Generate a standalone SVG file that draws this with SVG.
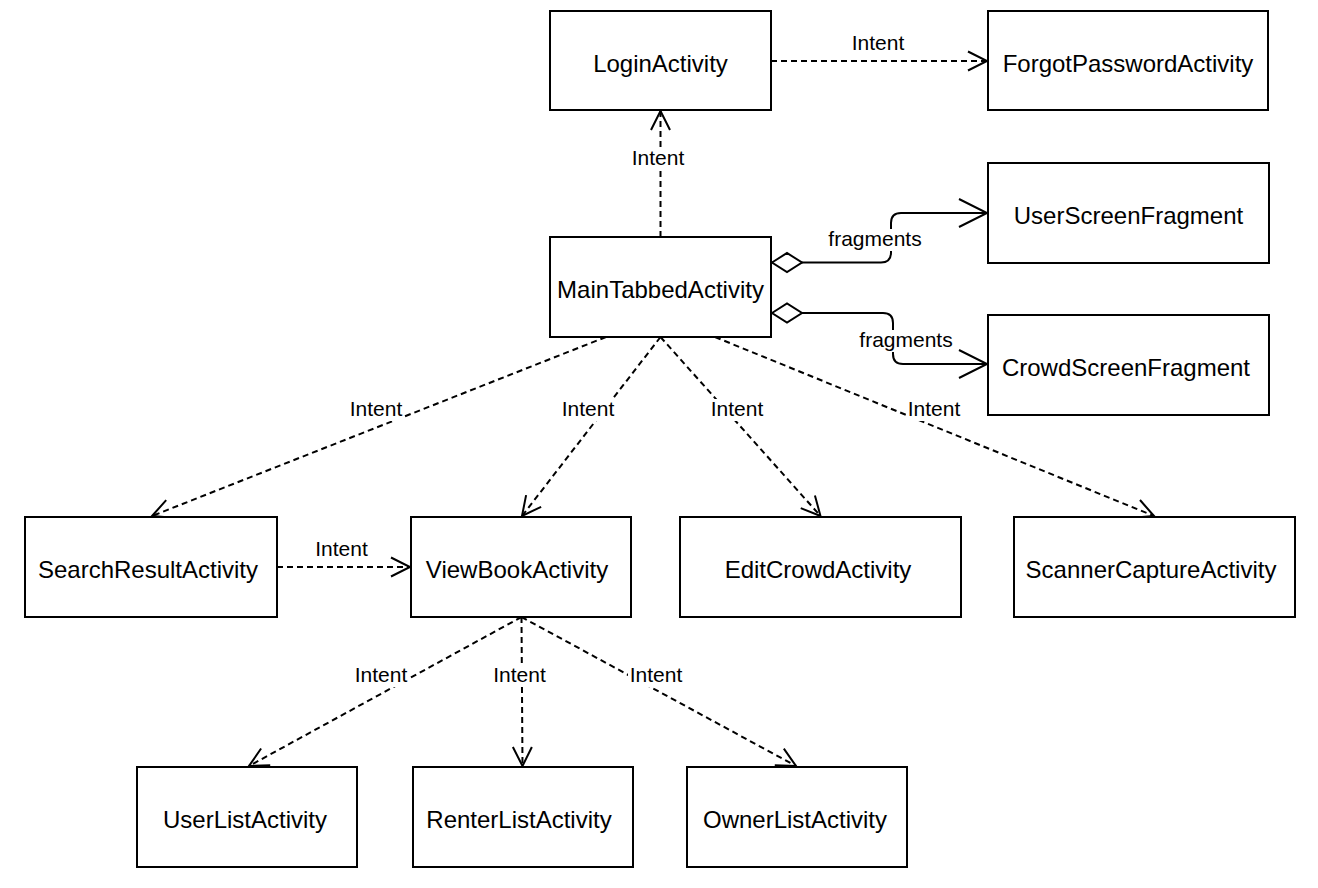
<svg xmlns="http://www.w3.org/2000/svg" width="1318" height="888" viewBox="0 0 1318 888">
<style>
.box{fill:#fff;stroke:#000;stroke-width:2}
.nt{font-family:"Liberation Sans",Arial,Helvetica,sans-serif;font-size:24px;text-anchor:middle;fill:#000}
.lt{font-family:"Liberation Sans",Arial,Helvetica,sans-serif;font-size:21px;text-anchor:middle;fill:#000}
.bg{fill:#fff;stroke:none}
.dash{fill:none;stroke:#000;stroke-width:2;stroke-dasharray:6 4;marker-end:url(#open)}
.solid{fill:none;stroke:#000;stroke-width:2;marker-start:url(#diamond);marker-end:url(#openBig)}
</style>
<defs>
<marker id="open" markerUnits="userSpaceOnUse" viewBox="-22 -12 24 24" refX="0" refY="0" markerWidth="24" markerHeight="24" orient="auto" overflow="visible">
<path d="M-19,-9.5 L0,0 L-19,9.5" fill="none" stroke="#000" stroke-width="2" stroke-dasharray="none"/>
</marker>
<marker id="openBig" markerUnits="userSpaceOnUse" viewBox="-31 -16 33 32" refX="0" refY="0" markerWidth="33" markerHeight="32" orient="auto" overflow="visible">
<path d="M-28,-14 L0,0 L-28,14" fill="none" stroke="#000" stroke-width="2" stroke-dasharray="none"/>
</marker>
<marker id="diamond" markerUnits="userSpaceOnUse" viewBox="-2 -11 34 22" refX="0" refY="0" markerWidth="34" markerHeight="22" orient="auto" overflow="visible">
<path d="M0,0 L15,-9.5 L30,0 L15,9.5 Z" fill="#fff" stroke="#000" stroke-width="2" stroke-dasharray="none"/>
</marker>
</defs>
<rect width="1318" height="888" fill="#fff"/>

<g id="connectors">
<path class="dash" d="M660.5,237 L660.5,111"/>
<path class="dash" d="M771,61 L987,61"/>
<path class="solid" d="M772,262.5 L881,262.5 Q891,262.5 891,252.5 L891,223 Q891,213 901,213 L987,213"/>
<path class="solid" d="M772,313 L883,313 Q893,313 893,323 L893,354 Q893,364 903,364 L987,364"/>
<path class="dash" d="M606,337 L152,516"/>
<path class="dash" d="M660.5,337 L522,516"/>
<path class="dash" d="M660.5,337 L820.5,516"/>
<path class="dash" d="M715,337 L1154,516"/>
<path class="dash" d="M277,567 L410,567"/>
<path class="dash" d="M521.5,617 L249,766"/>
<path class="dash" d="M521.5,617 L522.5,766"/>
<path class="dash" d="M521.5,617 L796,766"/>

<g id="labels">
<text class="lt" x="878" y="50">Intent</text>
<rect class="bg" x="631" y="148" width="56" height="22"/><text class="lt" x="658" y="165">Intent</text>
<rect class="bg" x="827" y="229" width="96" height="22"/><text class="lt" x="875" y="246">fragments</text>
<rect class="bg" x="858" y="330" width="96" height="22"/><text class="lt" x="906" y="347">fragments</text>
<rect class="bg" x="348" y="399" width="56" height="22"/><text class="lt" x="376" y="416">Intent</text>
<rect class="bg" x="560" y="399" width="56" height="22"/><text class="lt" x="588" y="416">Intent</text>
<rect class="bg" x="709" y="399" width="56" height="22"/><text class="lt" x="737" y="416">Intent</text>
<rect class="bg" x="906" y="399" width="56" height="22"/><text class="lt" x="934" y="416">Intent</text>
<text class="lt" x="341.5" y="556">Intent</text>
<rect class="bg" x="353" y="665" width="56" height="22"/><text class="lt" x="381" y="682">Intent</text>
<rect class="bg" x="491" y="665" width="56" height="22"/><text class="lt" x="519.5" y="682">Intent</text>
<rect class="bg" x="628" y="665" width="56" height="22"/><text class="lt" x="656" y="682">Intent</text>
</g>
</g>

<g id="LoginActivity"><rect class="box" x="550" y="11" width="221" height="99"/><text class="nt" x="660.5" y="71.5">LoginActivity</text></g>
<g id="ForgotPasswordActivity"><rect class="box" x="988" y="11" width="280" height="99"/><text class="nt" x="1128" y="71.5">ForgotPasswordActivity</text></g>
<g id="UserScreenFragment"><rect class="box" x="988" y="163" width="281" height="100"/><text class="nt" x="1128.5" y="224">UserScreenFragment</text></g>
<g id="MainTabbedActivity"><rect class="box" x="550" y="237" width="221" height="100"/><text class="nt" x="660.5" y="298">MainTabbedActivity</text></g>
<g id="CrowdScreenFragment"><rect class="box" x="988" y="315" width="281" height="100"/><text class="nt" x="1126" y="376">CrowdScreenFragment</text></g>
<g id="SearchResultActivity"><rect class="box" x="25" y="517" width="252" height="100"/><text class="nt" x="148" y="578">SearchResultActivity</text></g>
<g id="ViewBookActivity"><rect class="box" x="411" y="517" width="220" height="100"/><text class="nt" x="517" y="578">ViewBookActivity</text></g>
<g id="EditCrowdActivity"><rect class="box" x="680" y="517" width="281" height="100"/><text class="nt" x="818" y="578">EditCrowdActivity</text></g>
<g id="ScannerCaptureActivity"><rect class="box" x="1014" y="517" width="281" height="100"/><text class="nt" x="1151" y="578">ScannerCaptureActivity</text></g>
<g id="UserListActivity"><rect class="box" x="137" y="767" width="220" height="100"/><text class="nt" x="245" y="828">UserListActivity</text></g>
<g id="RenterListActivity"><rect class="box" x="413" y="767" width="220" height="100"/><text class="nt" x="519" y="828">RenterListActivity</text></g>
<g id="OwnerListActivity"><rect class="box" x="687" y="767" width="220" height="100"/><text class="nt" x="795" y="828">OwnerListActivity</text></g>
</svg>
